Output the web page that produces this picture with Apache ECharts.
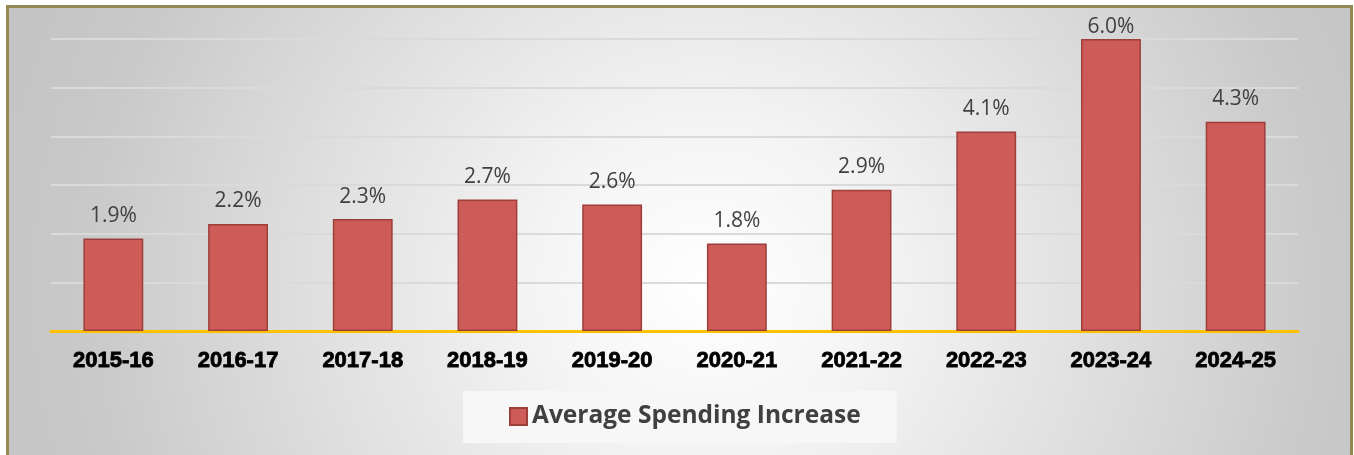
<!DOCTYPE html>
<html>
<head>
<meta charset="utf-8">
<script src="https://cdn.jsdelivr.net/npm/echarts@6/dist/echarts.min.js"></script>
<style>
  html, body { margin: 0; padding: 0; width: 1354px; height: 455px; overflow: hidden; background: #ffffff; }
  #frame {
    position: absolute; left: 6px; top: 5px; width: 1347px; height: 470px;
    border: 3px solid #938953; box-sizing: border-box;
    background: radial-gradient(ellipse 58% 160% at 52% 60%, #FFFFFF 0%, #F4F4F4 22%, #DCDCDC 55%, #C9C9C9 80%, #C2C2C2 100%);
  }
  #chart { position: absolute; left: 0; top: 0; width: 1354px; height: 455px; }
</style>
</head>
<body>
<div id="frame"></div>
<div id="chart"></div>
<script>
const categories = ['2015-16', '2016-17', '2017-18', '2018-19', '2019-20', '2020-21', '2021-22', '2022-23', '2023-24', '2024-25'];
const spendingIncrease = [1.9, 2.2, 2.3, 2.7, 2.6, 1.8, 2.9, 4.1, 6.0, 4.3];
const seriesName = 'Average Spending Increase';
const yMax = 6;

const chart = echarts.init(document.getElementById('chart'), null, { renderer: 'canvas' });
chart.setOption({
  backgroundColor: 'transparent',
  animation: false,
  grid: { left: 51, right: 56, top: 39, bottom: 124, containLabel: false },
  legend: {
    data: [seriesName],
    left: 463, top: 391,
    backgroundColor: '#F7F7F7',
    padding: [13, 36, 14, 46],
    itemWidth: 17, itemHeight: 17, itemGap: 6,
    icon: 'rect',
    textStyle: { fontFamily: 'Open Sans', fontWeight: 'bold', fontSize: 24.5, color: '#404040' }
  },
  xAxis: {
    type: 'category',
    data: categories,
    axisLine: { show: true, lineStyle: { color: '#FFC000', width: 3 } },
    axisTick: { show: false },
    axisLabel: {
      margin: 19, fontFamily: 'Liberation Sans', fontWeight: 'bold', fontSize: 22, color: '#000000',
      textBorderColor: '#000000', textBorderWidth: 0.8
    }
  },
  yAxis: {
    type: 'value', min: 0, max: yMax, interval: 1,
    axisLabel: { show: false },
    axisLine: { show: false },
    axisTick: { show: false },
    splitLine: { show: true, lineStyle: { color: '#DADADA', width: 2 } }
  },
  series: [{
    name: seriesName,
    type: 'bar',
    data: spendingIncrease.map(v => v >= yMax ? { value: v, label: { distance: 1 } } : v),
    barWidth: '48%',
    itemStyle: { color: '#CD5B58', borderColor: '#9E3E3B', borderWidth: 1.5 },
    label: {
      show: true, position: 'top', distance: 12,
      formatter: p => p.value.toFixed(1) + '%',
      fontFamily: 'Open Sans', fontSize: 21, color: '#404040'
    }
  }]
});
</script>
</body>
</html>
